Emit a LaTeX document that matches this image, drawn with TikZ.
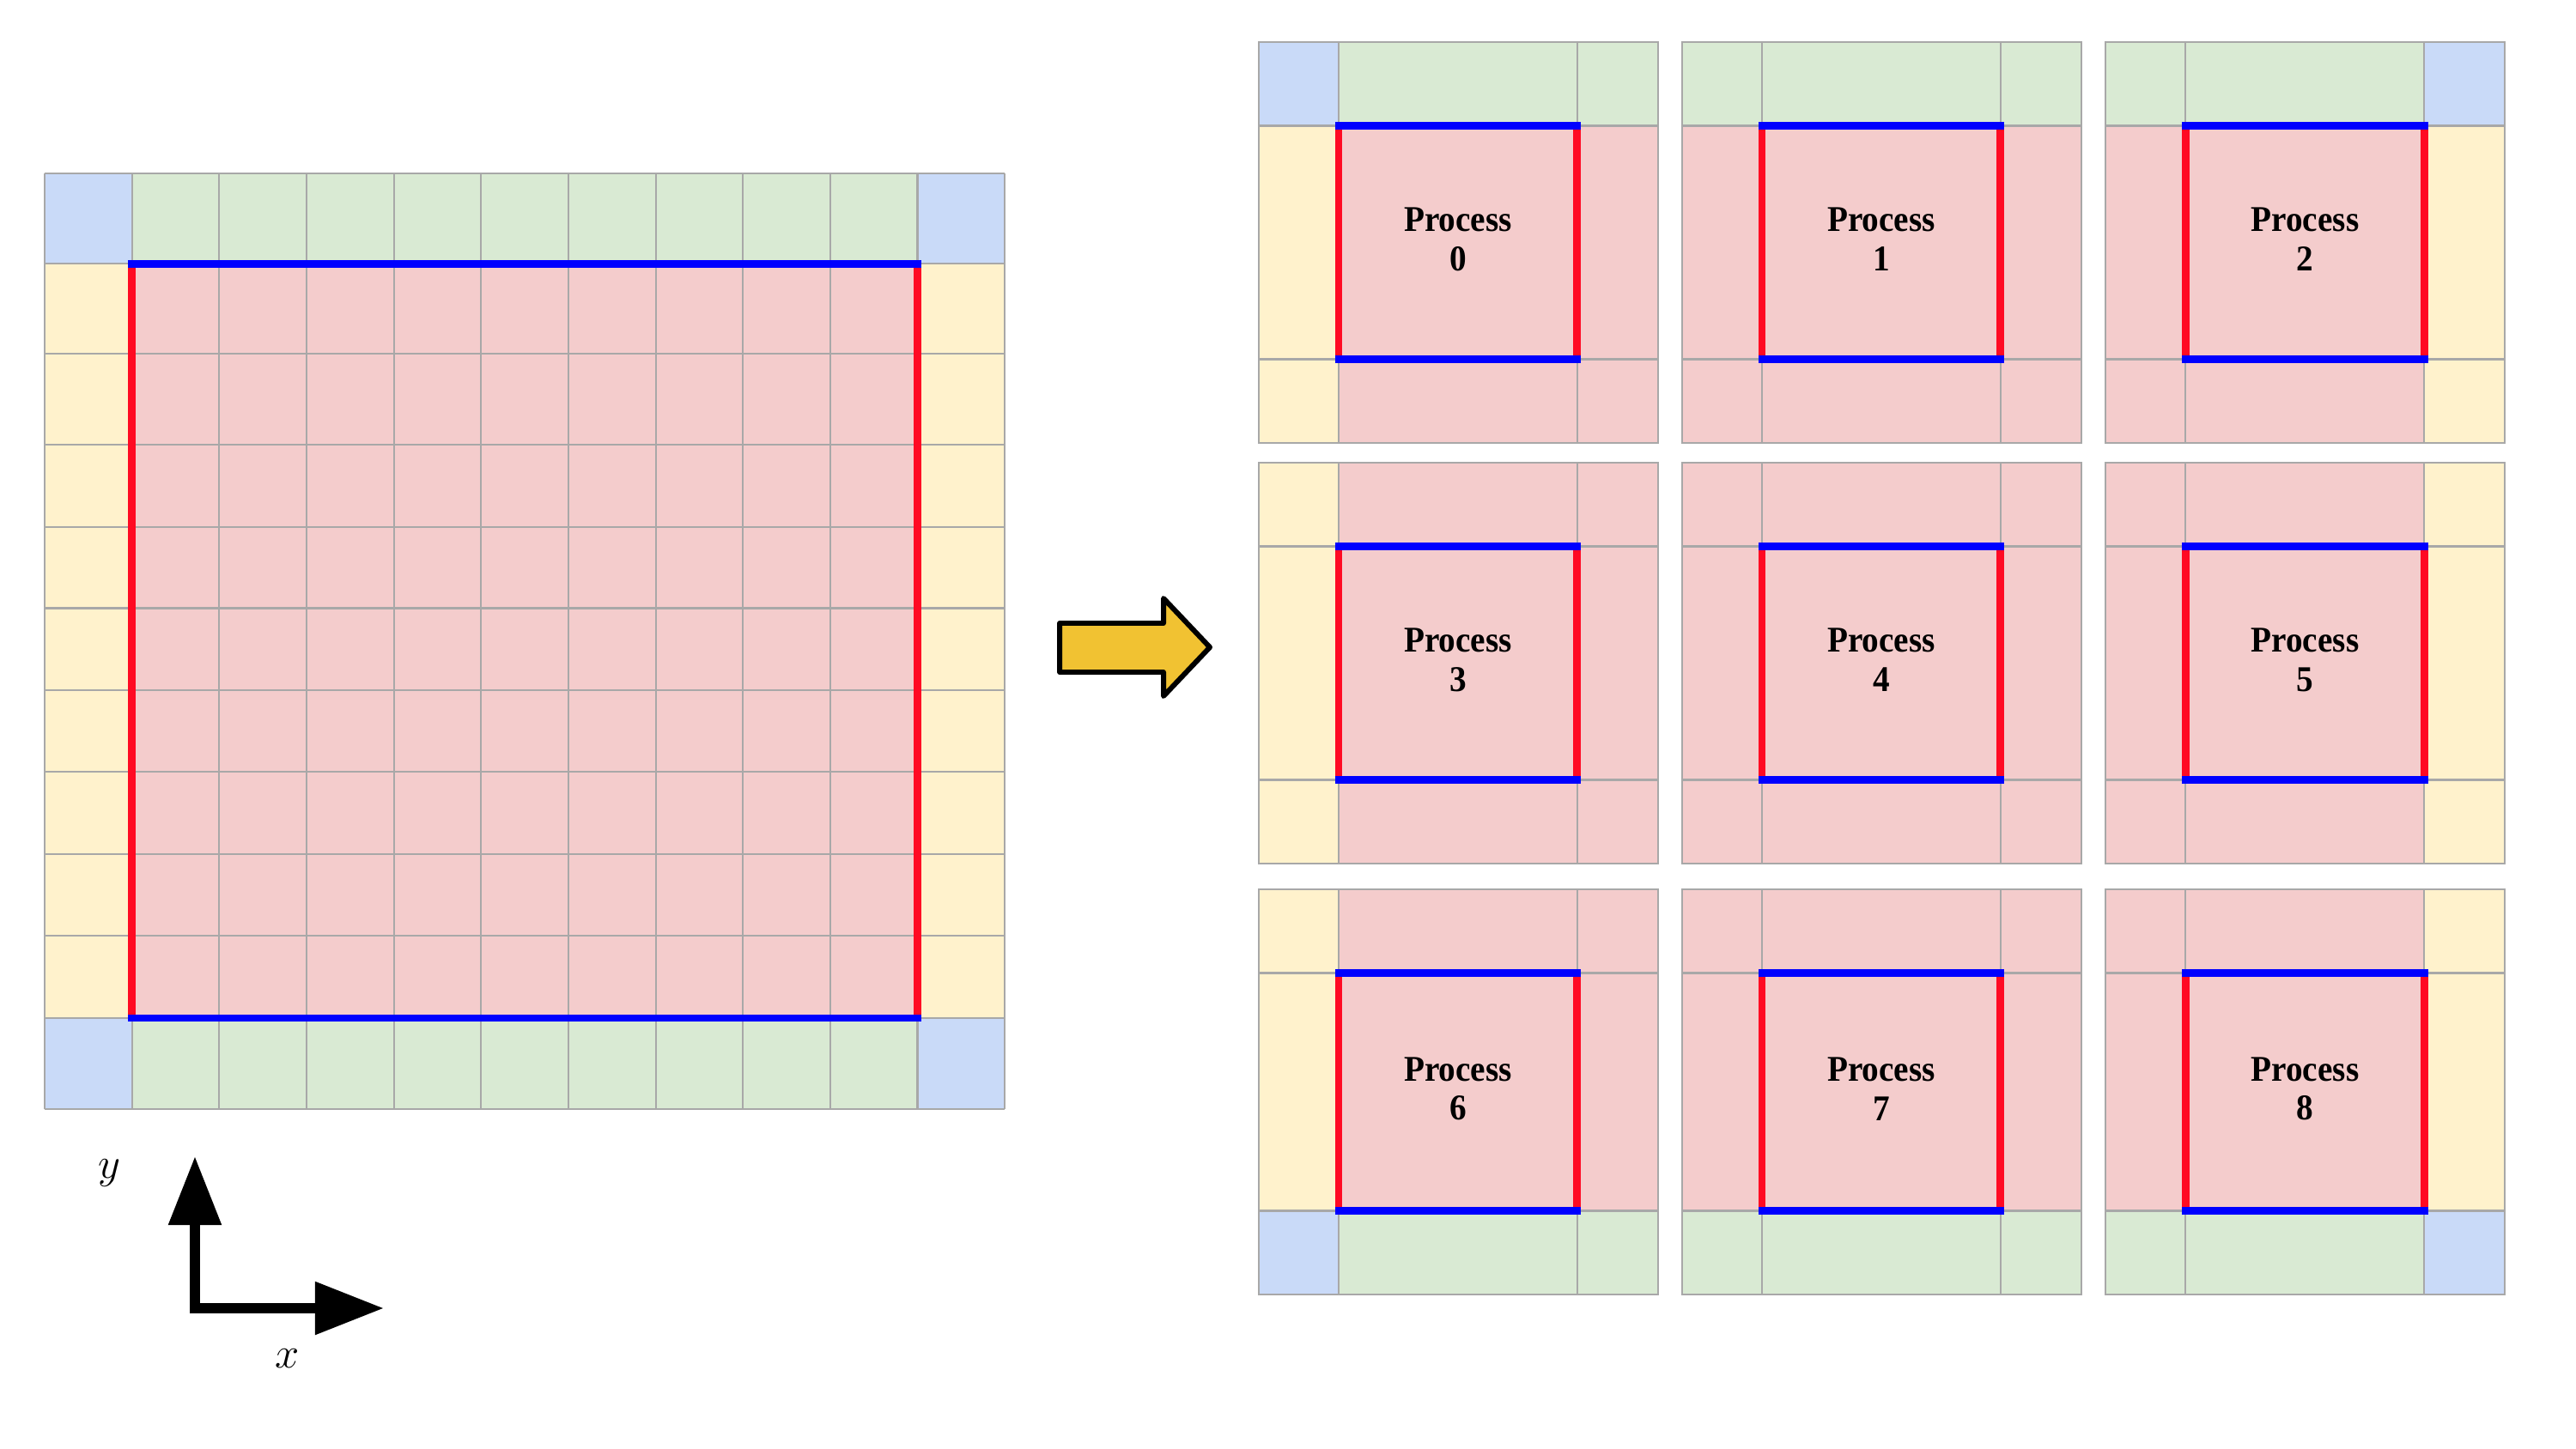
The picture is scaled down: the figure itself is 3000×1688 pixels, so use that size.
\documentclass[tikz,border=0pt]{standalone}
\usepackage{fontspec}
\newfontfamily\procfont[FakeStretch=0.93]{Liberation Serif}
\usetikzlibrary{arrows.meta}
\definecolor{cpink}{HTML}{F4CCCC}
\definecolor{cyellow}{HTML}{FFF2CC}
\definecolor{cgreen}{HTML}{D9EAD3}
\definecolor{cblue}{HTML}{C9DAF8}
\definecolor{cgray}{HTML}{A8A8A8}
\definecolor{cred}{HTML}{FF0A23}
\definecolor{carrow}{HTML}{F1C232}

\begin{document}
\begin{tikzpicture}[
      x=0.01cm, y=-0.01cm,
      mygrid/.style={draw=cgray, line width=0.6pt},
      mycell/.style={draw=cgray, line width=0.6pt},
      myred/.style={draw=cred, line width=2.5pt},
      myblue/.style={draw=blue, line width=2.5pt, line cap=rect},
      mylabel/.style={
         align=center,
         inner sep=0pt,
         font=\procfont\bfseries\fontsize{12}{13}\selectfont},
      myaxis/.style={
         line width=3.4pt,
         arrows={Triangle[length=8mm,width=5.9mm]-Triangle[length=8mm,width=5.9mm]}},
      mybigarrow/.style={draw=black, fill=carrow, line width=1.7pt, line join=round}
      ]
      \useasboundingbox (0,0) rectangle (3000,1688);

      % global domain
      \fill[cpink] (153.7,307.3) rectangle (1068.5,1186);
      \fill[cgreen] (153.7,202) rectangle (1068.5,307.3)
                    (153.7,1186) rectangle (1068.5,1291.6);
      \fill[cyellow] (52,307.3) rectangle (153.7,1186)
                     (1068.5,307.3) rectangle (1170,1186);
      \fill[cblue] (52,202) rectangle (153.7,307.3)
                   (1068.5,202) rectangle (1170,307.3)
                   (52,1186) rectangle (153.7,1291.6)
                   (1068.5,1186) rectangle (1170,1291.6);
      \foreach \i in {0,...,11}
        \draw[mygrid] (52+101.65*\i,202) -- (52+101.65*\i,1291.6);
      \foreach \y in {202,307.3,412.4,517.8,613.6,708.5,804.2,899,994.7,1089.6,1186,1291.6}
        \draw[mygrid] (52,\y) -- (1170,\y);
      \draw[myred] (153.7,307.3) -- (153.7,1186) (1068.5,307.3) -- (1068.5,1186);
      \draw[myblue] (153.7,307.3) -- (1068.5,307.3) (153.7,1186) -- (1068.5,1186);

      % axes
      \coordinate (o) at (227,1524);
      \coordinate (ytip) at (227,1347);
      \coordinate (xtip) at (447,1524);
      \draw[myaxis] (ytip) -- (o) -- (xtip);
      \node[font=\Large] (ylab) at (127,1367) {$y$};
      \node[font=\Large] (xlab) at (335,1583) {$x$};

      % split arrow
      \draw[mybigarrow] (1234,726) -- (1355,726) -- (1355,697) -- (1409,754)
         -- (1355,811) -- (1355,783) -- (1234,783) -- cycle;

      % subdomains
      \foreach \row/\yo/\h in {0/49/272, 1/539/272, 2/1036/277}
      \foreach \col/\xo in {0/1466, 1/1959, 2/2452.4} {
        \pgfmathtruncatemacro\n{3*\row+\col}
        \foreach \i/\xa/\xb in {0/0/93, 1/93/370.8, 2/370.8/464.6}
        \foreach \j/\ya/\yb in {0/0/97.5, 1/97.5/97.5+\h, 2/97.5+\h/195+\h} {
          \pgfmathtruncatemacro\k{2*(((\row==0)&&(\j==0))||((\row==2)&&(\j==2)))
                                  +(((\col==0)&&(\i==0))||((\col==2)&&(\i==2)))}
          \ifcase\k \def\cc{cpink}\or \def\cc{cyellow}\or \def\cc{cgreen}\or \def\cc{cblue}\fi
          \filldraw[mycell, fill=\cc] (\xo+\xa,\yo+\ya) rectangle (\xo+\xb,\yo+\yb);
        }
        \draw[myred] (\xo+93,\yo+97.5) -- (\xo+93,\yo+97.5+\h)
                     (\xo+370.8,\yo+97.5) -- (\xo+370.8,\yo+97.5+\h);
        \draw[myblue] (\xo+93,\yo+97.5) -- (\xo+370.8,\yo+97.5)
                      (\xo+93,\yo+97.5+\h) -- (\xo+370.8,\yo+97.5+\h);
        \node[mylabel] (p\n) at (\xo+232,\yo+94+\h/2) {Process\\\n};
      }

\end{tikzpicture}
\end{document}
